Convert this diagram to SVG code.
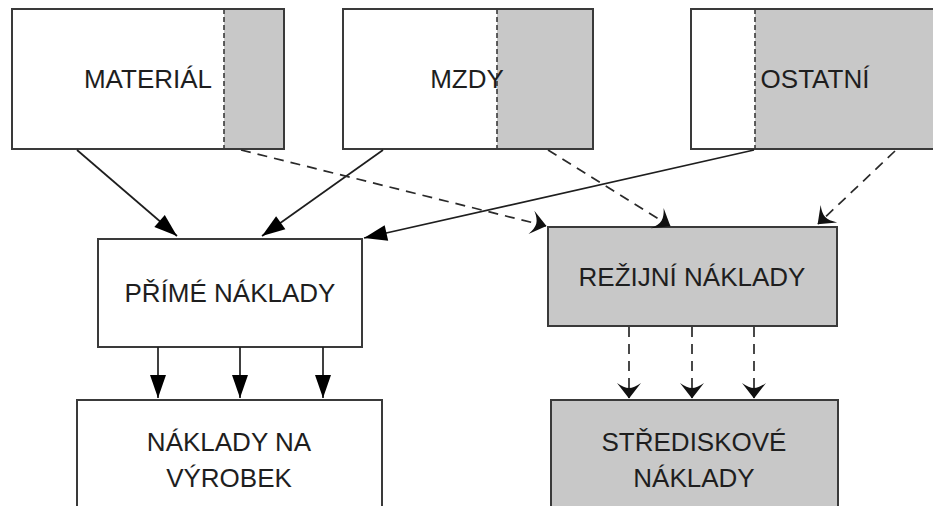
<svg xmlns="http://www.w3.org/2000/svg" width="933" height="506" viewBox="0 0 933 506">
<style>
.box{fill:none;stroke:#3a3a3a;stroke-width:2}
.white{fill:#ffffff}
.gray{fill:#c8c8c8}
.div{stroke:#3a3a3a;stroke-width:1.6;stroke-dasharray:5 3;fill:none}
.lbl{font-family:"Liberation Sans",Arial,sans-serif;font-size:26px;fill:#1e1e1e;text-anchor:middle}
.solid{stroke:#1e1e1e;stroke-width:1.7;fill:none;marker-end:url(#tri)}
.dash{stroke:#2a2a2a;stroke-width:1.7;fill:none;stroke-dasharray:10 7;marker-end:url(#chev)}
</style>
<defs>
<marker id="tri" viewBox="-24 -10 25 20" refX="0" refY="0" markerWidth="25" markerHeight="20" markerUnits="userSpaceOnUse" orient="auto">
<path d="M0,0 L-23,-8 L-23,8 Z" fill="#000"/>
</marker>
<marker id="chev" viewBox="-17 -13 18 26" refX="0" refY="0" markerWidth="18" markerHeight="26" markerUnits="userSpaceOnUse" orient="auto">
<path d="M0.5,0 L-15,-12 Q-10,-5 -10,0 Q-10,5 -15,12 Z" fill="#111"/>
</marker>
</defs>
<rect width="933" height="506" fill="#ffffff"/>
<g id="material">
<rect class="white" x="12" y="9" width="212" height="140"/>
<rect class="gray" x="224" y="9" width="60" height="140"/>
<line class="div" x1="224" y1="9" x2="224" y2="149"/>
<rect class="box" x="12" y="9" width="272" height="140"/>
<text class="lbl" x="148" y="88">MATERIÁL</text>
</g>
<g id="mzdy">
<rect class="white" x="343" y="9" width="154" height="140"/>
<rect class="gray" x="497" y="9" width="96" height="140"/>
<line class="div" x1="497" y1="9" x2="497" y2="149"/>
<rect class="box" x="343" y="9" width="250" height="140"/>
<text class="lbl" x="467" y="88">MZDY</text>
</g>
<g id="ostatni">
<rect class="white" x="691" y="9" width="64" height="140"/>
<rect class="gray" x="755" y="9" width="190" height="140"/>
<line class="div" x1="755" y1="9" x2="755" y2="149"/>
<rect class="box" x="691" y="9" width="254" height="140"/>
<text class="lbl" x="815" y="88">OSTATNÍ</text>
</g>
<g id="prime">
<rect class="white" x="98" y="239" width="264" height="108"/>
<rect class="box" x="98" y="239" width="264" height="108"/>
<text class="lbl" x="230" y="302">PŘÍMÉ NÁKLADY</text>
</g>
<g id="rezijni">
<rect class="gray" x="548" y="227" width="289" height="99"/>
<rect class="box" x="548" y="227" width="289" height="99"/>
<text class="lbl" x="692" y="286">REŽIJNÍ NÁKLADY</text>
</g>
<g id="vyrobek">
<rect class="white" x="77" y="400" width="305" height="120"/>
<rect class="box" x="77" y="400" width="305" height="120"/>
<text class="lbl" x="229" y="451">NÁKLADY NA</text>
<text class="lbl" x="229" y="487">VÝROBEK</text>
</g>
<g id="strediskove">
<rect class="gray" x="551" y="400" width="287" height="120"/>
<rect class="box" x="551" y="400" width="287" height="120"/>
<text class="lbl" x="694" y="451">STŘEDISKOVÉ</text>
<text class="lbl" x="694" y="487">NÁKLADY</text>
</g>
<g id="connectors">
<line class="solid" x1="77" y1="150" x2="177" y2="236"/>
<line class="solid" x1="383" y1="150" x2="262" y2="236"/>
<line class="solid" x1="754" y1="150" x2="364" y2="238"/>
<line class="dash" x1="241" y1="150" x2="546" y2="226"/>
<line class="dash" x1="548" y1="150" x2="670" y2="226"/>
<line class="dash" x1="895" y1="151" x2="818" y2="224"/>
<line class="solid" x1="158" y1="347" x2="158" y2="398"/>
<line class="solid" x1="240" y1="347" x2="240" y2="398"/>
<line class="solid" x1="323" y1="347" x2="323" y2="398"/>
<line class="dash" x1="629" y1="327" x2="629" y2="398"/>
<line class="dash" x1="692" y1="327" x2="692" y2="398"/>
<line class="dash" x1="754" y1="327" x2="754" y2="398"/>
</g>
</svg>
